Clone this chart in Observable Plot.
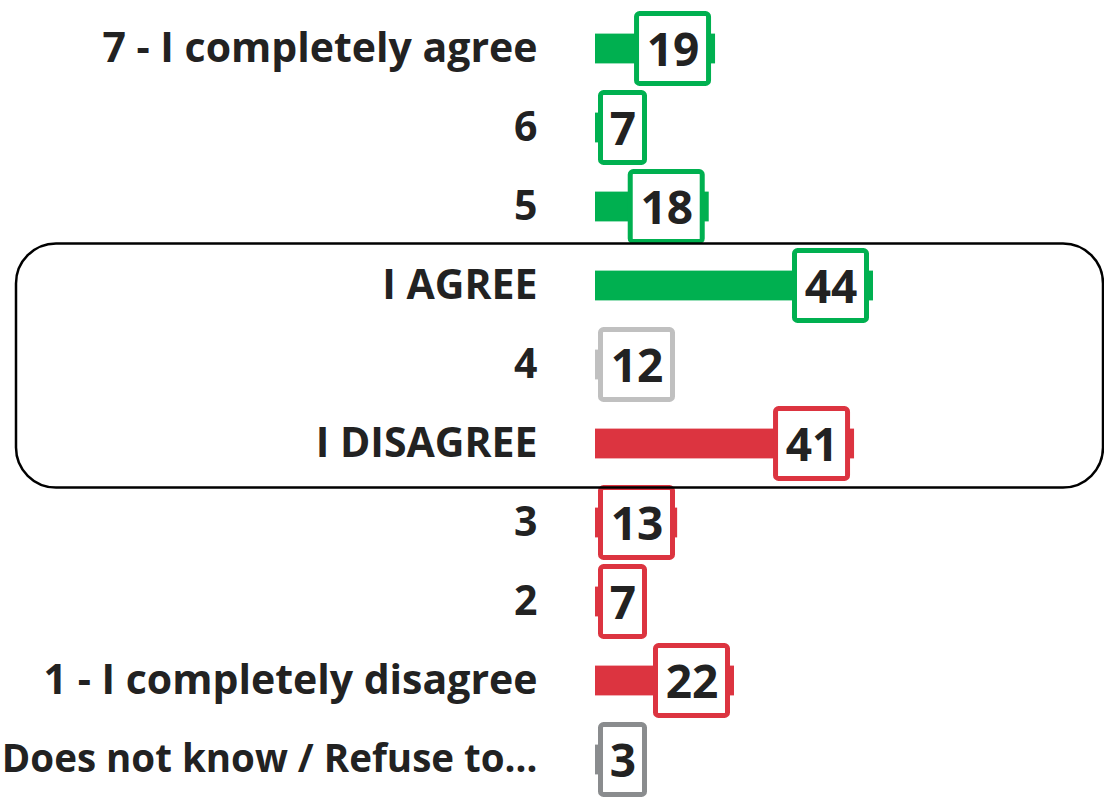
<!DOCTYPE html>
<html>
<head>
<meta charset="utf-8">
<script src="https://cdn.jsdelivr.net/npm/d3@7"></script>
<script src="https://cdn.jsdelivr.net/npm/@observablehq/plot@0.6"></script>
<style>
  html, body { margin: 0; padding: 0; background: #fff; }
  #chart { width: 1104px; height: 798px; overflow: hidden; }
</style>
</head>
<body>
<div id="chart"></div>
<script>
const categories = ["7 - I completely agree", "6", "5", "I AGREE", "4", "I DISAGREE", "3", "2", "1 - I completely disagree", "Does not know / Refuse to…"];
const values = [19, 7, 18, 44, 12, 41, 13, 7, 22, 3];
const colors = ["#00b050", "#00b050", "#00b050", "#00b050", "#c0c0c0", "#dc3440", "#dc3440", "#dc3440", "#dc3440", "#8a8c8e"];

const data = categories.map((c, i) => ({cat: c, value: values[i], color: colors[i]}));

const W = 1104, H = 798;
const x0 = 595, x44 = 873;
const k = (x44 - x0) / 44; // px per unit
const toU = px => (px - x0) / k;
const stroke = 5;
function boxX(d) {
  const outerW = String(d.value).length === 1 ? 49 : 77;
  const barEnd = x0 + d.value * k;
  const outerRight = Math.max(barEnd - 4, 598 + outerW);
  const x2 = outerRight - stroke / 2;
  const x1 = outerRight - outerW + stroke / 2;
  return [toU(x1), toU(x2)];
}

const step = 79.33;
const yTop = 47 - step / 2;

const chart = Plot.plot({
  width: W,
  height: H,
  marginLeft: 0, marginRight: 0, marginTop: 0, marginBottom: 0,
  x: {domain: [0, 44], range: [x0, x44], axis: null},
  y: {domain: categories, range: [yTop, yTop + step * categories.length], padding: 0, axis: null},
  color: {type: "identity"},
  style: {fontFamily: "'Open Sans', sans-serif", color: "#222", background: "#fff", overflow: "visible"},
  marks: [
    Plot.barX(data, {x: "value", y: "cat", fill: "color", insetTop: 24.6, insetBottom: 24.6}),
    Plot.barX(data, {
      x1: d => boxX(d)[0], x2: d => boxX(d)[1], y: "cat",
      fill: "white", stroke: "color", strokeWidth: stroke, rx: 3,
      insetTop: 4.6, insetBottom: 4.6
    }),
    Plot.text(data, {
      x: d => (boxX(d)[0] + boxX(d)[1]) / 2, y: "cat", text: d => String(d.value),
      fontSize: 46, fontWeight: 700, fill: "#222", dy: 2
    }),
    Plot.text(data, {
      x: 0, y: "cat", text: "cat", textAnchor: "end", dx: -58,
      fontSize: d => d.cat.length > 25 ? 38.5 : 41, fontWeight: 700, fill: "#222"
    }),
    (index, scales, values, dimensions) => {
      const y = scales.y;
      const bw = y.bandwidth ? y.bandwidth() : step;
      const cy = y("4") + bw / 2 + 1;
      const r = d3.create("svg:rect")
        .attr("x", 16).attr("y", cy - 122)
        .attr("width", dimensions.width - 1 - 16).attr("height", 244)
        .attr("rx", 40).attr("ry", 40)
        .attr("fill", "none").attr("stroke", "#000").attr("stroke-width", 2.5);
      return r.node();
    }
  ]
});
document.getElementById("chart").appendChild(chart);
</script>
</body>
</html>
